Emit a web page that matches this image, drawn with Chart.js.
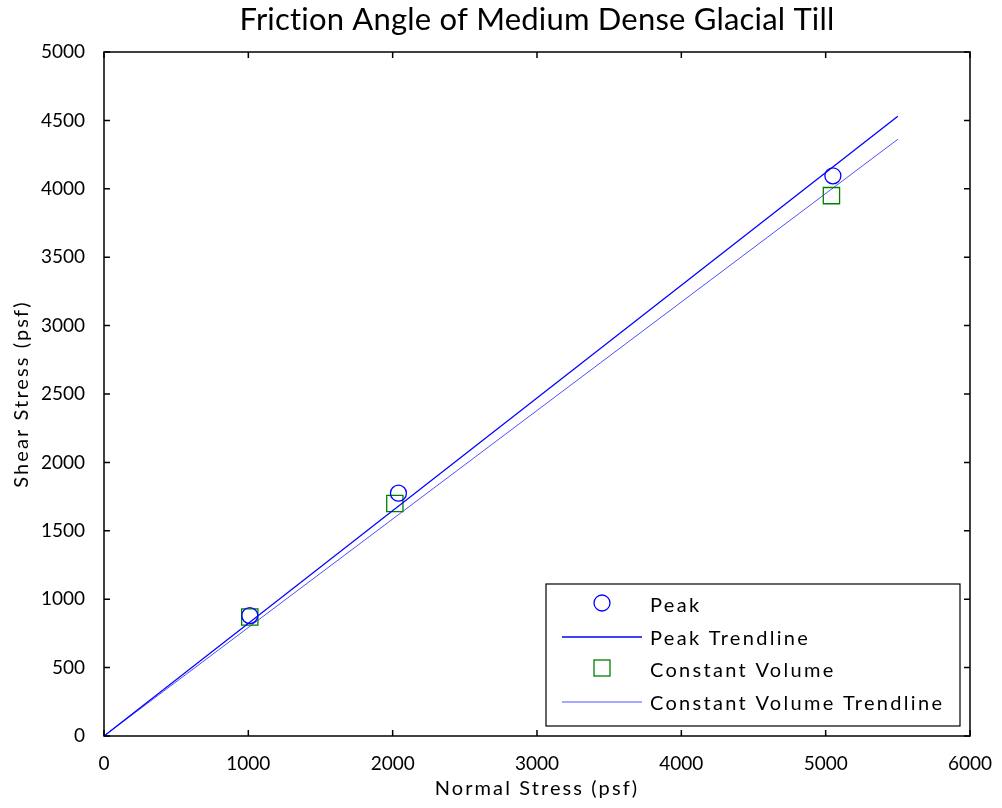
<!DOCTYPE html>
<html>
<head>
  <title>Friction Angle of Medium Dense Glacial Till</title>
  <script src="https://cdn.jsdelivr.net/npm/chart.js"></script>
  <style>
    html, body { margin: 0; padding: 0; background: #fff; }
    #wrap { width: 1002px; height: 808px; }
  </style>
</head>
<body>
<div id="wrap"><canvas id="frictionChart" width="1002" height="808"></canvas></div>

<script>
  // direct shear results (psf)
  const peakNormal = [1010, 2040, 5050];
  const peakShear = [880, 1775, 4095];
  const cvNormal = [1010, 2015, 5040];
  const cvShear = [870, 1700, 3950];

  // fitted lines through the origin
  const trendX = [0, 5500];
  const peakTrend = [0, 4530];
  const cvTrend = [0, 4362];

  const xTicks = [0, 1000, 2000, 3000, 4000, 5000, 6000];
  const yTicks = [0, 500, 1000, 1500, 2000, 2500, 3000, 3500, 4000, 4500, 5000];

  const toPoints = (xs, ys) => xs.map((x, i) => ({ x: x, y: ys[i] }));

  const FONT = 'Lato, "Open Sans", sans-serif';

  // box, inward tick marks, title, axis titles and legend
  const frame = {
    id: 'frame',
    afterDraw(chart) {
      const ctx = chart.ctx;
      const a = chart.chartArea;
      const xs = chart.scales.x, ys = chart.scales.y;
      ctx.save();
      ctx.strokeStyle = '#000';
      ctx.lineWidth = 1.5;
      ctx.strokeRect(a.left, a.top, a.right - a.left, a.bottom - a.top);

      ctx.beginPath();
      xTicks.forEach(v => {
        const px = xs.getPixelForValue(v);
        ctx.moveTo(px, a.bottom); ctx.lineTo(px, a.bottom - 6);
        ctx.moveTo(px, a.top); ctx.lineTo(px, a.top + 6);
      });
      yTicks.forEach(v => {
        const py = ys.getPixelForValue(v);
        ctx.moveTo(a.left, py); ctx.lineTo(a.left + 6, py);
        ctx.moveTo(a.right, py); ctx.lineTo(a.right - 6, py);
      });
      ctx.stroke();

      ctx.fillStyle = '#000';
      ctx.textAlign = 'center';
      ctx.textBaseline = 'middle';
      ctx.font = '31px ' + FONT;
      ctx.letterSpacing = '0.2px';
      ctx.fillText('Friction Angle of Medium Dense Glacial Till', (a.left + a.right) / 2, 20);

      ctx.font = '20px ' + FONT;
      ctx.letterSpacing = '2.1px';
      ctx.fillText('Normal Stress (psf)', (a.left + a.right) / 2, 789);
      ctx.save();
      ctx.translate(22, (a.top + a.bottom) / 2);
      ctx.rotate(-Math.PI / 2);
      ctx.fillText('Shear Stress (psf)', 0, 0);
      ctx.restore();

      // legend
      const lx = 546, ly = 584, lw = 414, lh = 142;
      ctx.fillStyle = '#fff';
      ctx.fillRect(lx, ly, lw, lh);
      ctx.strokeStyle = '#000';
      ctx.lineWidth = 1.2;
      ctx.strokeRect(lx, ly, lw, lh);

      const rows = [
        { label: chart.data.datasets[0].label, kind: 'circle', color: '#0000ff', y: 605 },
        { label: chart.data.datasets[1].label, kind: 'line', color: '#0000ff', width: 1.3, y: 638 },
        { label: chart.data.datasets[2].label, kind: 'rect', color: '#008000', y: 670 },
        { label: chart.data.datasets[3].label, kind: 'line', color: '#5050ff', width: 1, y: 703 }
      ];
      rows.forEach(r => {
        ctx.strokeStyle = r.color;
        if (r.kind === 'circle') {
          ctx.lineWidth = 1.3;
          ctx.beginPath();
          ctx.arc(602, r.y - 2, 8, 0, Math.PI * 2);
          ctx.stroke();
        } else if (r.kind === 'rect') {
          ctx.lineWidth = 1.3;
          ctx.strokeRect(594, r.y - 10, 16, 16);
        } else {
          ctx.lineWidth = r.width;
          ctx.beginPath();
          ctx.moveTo(562, r.y - 1);
          ctx.lineTo(642, r.y - 1);
          ctx.stroke();
        }
        ctx.fillStyle = '#000';
        ctx.textAlign = 'left';
        ctx.font = '20px ' + FONT;
        ctx.letterSpacing = '2.3px';
        ctx.fillText(r.label, 650, r.y + 1);
      });
      ctx.restore();
    }
  };

  new Chart(document.getElementById('frictionChart'), {
    type: 'scatter',
    data: {
      datasets: [
        {
          label: 'Peak',
          data: toPoints(peakNormal, peakShear),
          pointStyle: 'circle',
          pointRadius: 8,
          borderColor: '#0000ff',
          backgroundColor: 'rgba(0,0,0,0)',
          borderWidth: 1.3
        },
        {
          label: 'Peak Trendline',
          data: toPoints(trendX, peakTrend),
          showLine: true,
          pointRadius: 0,
          borderColor: '#0000ff',
          borderWidth: 1.3
        },
        {
          label: 'Constant Volume',
          data: toPoints(cvNormal, cvShear),
          pointStyle: 'rect',
          pointRadius: 11.5,
          borderColor: '#008000',
          backgroundColor: 'rgba(0,0,0,0)',
          borderWidth: 1.3
        },
        {
          label: 'Constant Volume Trendline',
          data: toPoints(trendX, cvTrend),
          showLine: true,
          pointRadius: 0,
          borderColor: '#5050ff',
          borderWidth: 1
        }
      ]
    },
    options: {
      responsive: false,
      animation: false,
      layout: { padding: { top: 52, right: 32, left: 0, bottom: 0 } },
      plugins: {
        legend: { display: false },
        title: { display: false },
        tooltip: { enabled: false }
      },
      scales: {
        x: {
          type: 'linear',
          min: 0, max: 6000,
          afterBuildTicks: s => { s.ticks = xTicks.map(v => ({ value: v })); },
          afterFit: s => { s.height = 72; },
          grid: { display: false },
          border: { display: false },
          ticks: { color: '#000', padding: 8, font: { family: FONT, size: 19 }, callback: v => String(v) }
        },
        y: {
          type: 'linear',
          min: 0, max: 5000,
          afterBuildTicks: s => { s.ticks = yTicks.map(v => ({ value: v })); },
          afterFit: s => { s.width = 104; },
          grid: { display: false },
          border: { display: false },
          ticks: { color: '#000', padding: 11, font: { family: FONT, size: 19 }, callback: v => String(v) }
        }
      }
    },
    plugins: [frame]
  });
</script>
</body>
</html>
